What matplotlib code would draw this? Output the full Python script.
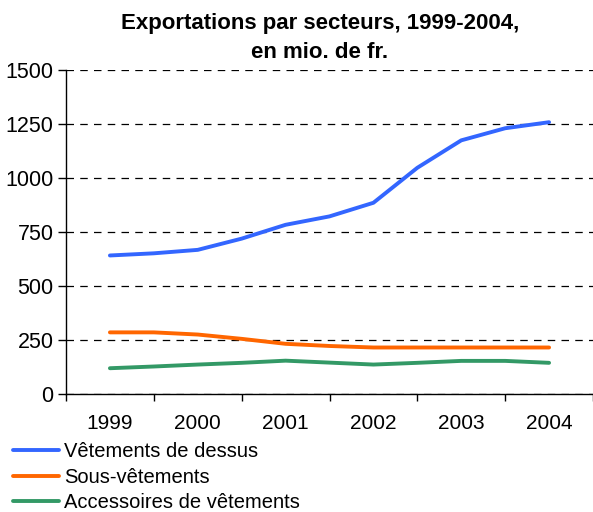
import matplotlib
matplotlib.use("Agg")
import matplotlib.pyplot as plt

plt.rcParams["font.family"] = ["Liberation Sans", "DejaVu Sans"]

# half-year steps from 1999 to 2004
years = ["1999", "2000", "2001", "2002", "2003", "2004"]
vetements_dessus = [639, 649, 665, 717, 781, 820, 883, 1045, 1172, 1228, 1256]
sous_vetements = [283, 283, 273, 253, 230, 220, 213, 213, 213, 213, 213]
accessoires = [117, 125, 134, 142, 152, 143, 134, 142, 151, 151, 142]

series = [
    ("Vêtements de dessus", vetements_dessus, "#3366FF"),
    ("Sous-vêtements", sous_vetements, "#FF6600"),
    ("Accessoires de vêtements", accessoires, "#339966"),
]

fig = plt.figure(figsize=(5.93, 5.12), dpi=100)
ax = fig.add_axes([66 / 593, 1 - 393.5 / 512, 527 / 593, 324 / 512])

x = list(range(len(vetements_dessus)))
for label, values, color in series:
    ax.plot(x, values, color=color, lw=2.8, label=label, solid_capstyle="round")

ax.set_xlim(-1, 11)
ax.set_ylim(0, 1500)
ax.set_yticks(range(0, 1501, 250))

# tick marks between the years, labels centred on each year
ax.set_xticks(range(-1, 12, 2))
ax.set_xticklabels([])
ax.set_xticks(range(0, 11, 2), minor=True)
ax.set_xticklabels(years, minor=True)
ax.tick_params(axis="x", which="major", length=5, width=1, direction="out", color="black")
ax.tick_params(axis="x", which="minor", length=0, pad=15, labelsize=15)
ax.tick_params(axis="y", length=6, width=1, direction="out", pad=3, labelsize=15.5)

ax.yaxis.grid(True, linestyle=(0, (6, 5)), color="black", lw=0.9)
ax.set_axisbelow(True)
for side in ["top", "right"]:
    ax.spines[side].set_visible(False)
for side in ["left", "bottom"]:
    ax.spines[side].set_linewidth(1)

fig.text(320 / 593, 1 - 38 / 512, "Exportations par secteurs, 1999-2004,\nen mio. de fr.",
         ha="center", va="center", fontsize=16, fontweight="bold", linespacing=1.45)

fig.legend(loc="upper left", bbox_to_anchor=(13 / 593, 1 - 442 / 512), frameon=False,
           fontsize=14.5, handlelength=2.3, handletextpad=0.25, labelspacing=0.33,
           borderaxespad=0, borderpad=0)

fig.savefig("out.png", dpi=100)
